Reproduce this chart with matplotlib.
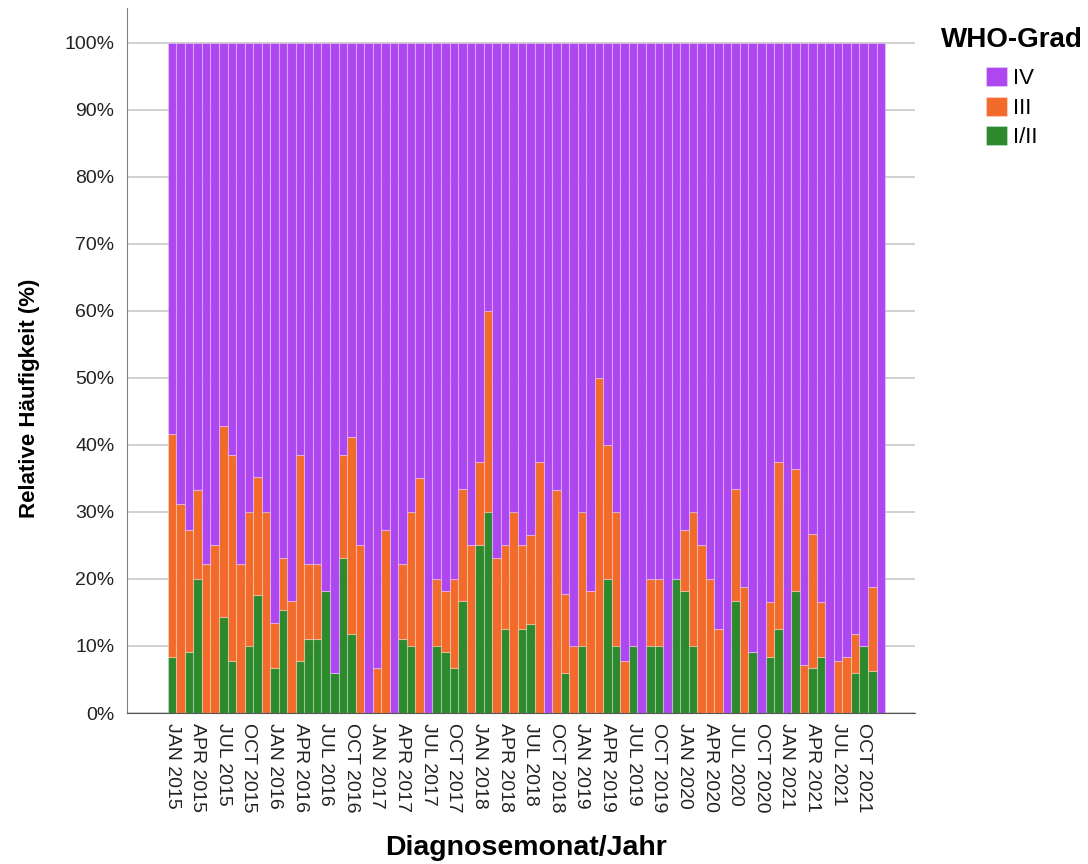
import numpy as np
import matplotlib.pyplot as plt

plt.rcParams['font.family'] = ['Liberation Sans', 'DejaVu Sans']

# Months Jan 2015 - Dec 2021
monthNames = ["JAN", "FEB", "MAR", "APR", "MAY", "JUN",
              "JUL", "AUG", "SEP", "OCT", "NOV", "DEC"]
years = [2015, 2016, 2017, 2018, 2019, 2020, 2021]

# Relative frequency (%) per month
gradeI_II = [8.3, 0, 9.1, 20, 0, 0, 14.3, 7.7, 0, 10, 17.6, 0,
             6.7, 15.4, 0, 7.7, 11.1, 11.1, 18.2, 5.9, 23.1, 11.8, 0, 0,
             0, 0, 0, 11.1, 10, 0, 0, 10, 9.1, 6.7, 16.7, 0,
             25, 30, 0, 12.5, 0, 12.5, 13.3, 0, 0, 0, 5.9, 0,
             10, 0, 0, 20, 10, 0, 10, 0, 10, 10, 0, 20,
             18.2, 10, 0, 0, 0, 0, 16.7, 0, 9.1, 0, 8.3, 12.5,
             0, 18.2, 0, 6.7, 8.3, 0, 0, 0, 5.9, 10, 6.25, 0]
gradeIII = [33.3, 31.25, 18.2, 13.3, 22.2, 25, 28.6, 30.8, 22.2, 20, 17.6, 30,
            6.7, 7.7, 16.7, 30.8, 11.1, 11.1, 0, 0, 15.4, 29.4, 25, 0,
            6.7, 27.3, 0, 11.1, 20, 35, 0, 10, 9.1, 13.3, 16.7, 25,
            12.5, 30, 23.1, 12.5, 30, 12.5, 13.3, 37.5, 0, 33.3, 11.8, 10,
            20, 18.2, 50, 20, 20, 7.7, 0, 0, 10, 10, 0, 0,
            9.1, 20, 25, 20, 12.5, 0, 16.7, 18.75, 0, 0, 8.3, 25,
            0, 18.2, 7.1, 20, 8.3, 0, 7.7, 8.3, 5.9, 0, 12.5, 0]
gradeIV = [100 - a - b for a, b in zip(gradeI_II, gradeIII)]

monthLabels = [m + " " + str(y) for y in years for m in monthNames]

colIV = '#ae47f0'
colIII = '#f36b2b'
colI_II = '#2c8a2c'

fig = plt.figure(figsize=(10.88, 8.64), dpi=100)
ax = fig.add_axes([127/1088, 1 - 713/864, (915 - 127)/1088, (713 - 8)/864])

x = np.arange(len(monthLabels))
edge = (1, 1, 1, 0.3)
ax.bar(x, gradeI_II, width=1.0, color=colI_II, edgecolor=edge, linewidth=0.8, label="I/II")
ax.bar(x, gradeIII, width=1.0, bottom=gradeI_II, color=colIII, edgecolor=edge, linewidth=0.8, label="III")
bottomIV = [a + b for a, b in zip(gradeI_II, gradeIII)]
ax.bar(x, gradeIV, width=1.0, bottom=bottomIV, color=colIV, edgecolor=edge, linewidth=0.8, label="IV")

ax.set_xlim(-5.27, 87.0)
ax.set_ylim(0, 105.2)

ax.set_yticks(np.arange(0, 101, 10))
ax.set_yticklabels([str(v) + "%" for v in range(0, 101, 10)])
ax.set_xticks(x[::3])
ax.set_xticklabels(monthLabels[::3], rotation=-90, va='top', ha='center')
ax.tick_params(axis='both', length=0, labelsize=14, colors='#222222')
ax.tick_params(axis='y', pad=9)
ax.tick_params(axis='x', pad=7)

ax.yaxis.grid(True, color='#c8c8c8', linewidth=1.2)
ax.set_axisbelow(True)
for s in ['top', 'right']:
    ax.spines[s].set_visible(False)
ax.spines['left'].set_color('#808080')
ax.spines['bottom'].set_color('#555555')

ax.set_ylabel("Relative Häufigkeit (%)", fontsize=16, fontweight='bold')
ax.yaxis.set_label_coords(-(127 - 40) / 788, (713 - 398) / 705)
ax.set_xlabel("Diagnosemonat/Jahr", fontsize=20.5, fontweight='bold')
ax.xaxis.set_label_coords((526 - 127) / 788, -(835 - 713) / 705)

# legend: title as separate text so the gap matches
fig.text(1012/1088, 1 - 47/864, "WHO-Grad", fontsize=20, fontweight='bold',
         ha='center', va='baseline')
handles, labels = ax.get_legend_handles_labels()
leg = fig.legend(handles[::-1], labels[::-1], loc='upper left',
                 bbox_to_anchor=(986/1088, 1 - 67/864), frameon=False,
                 borderpad=0, borderaxespad=0,
                 fontsize=16, handlelength=0.95, handleheight=0.95,
                 handletextpad=0.25, labelspacing=0.33)

fig.savefig("out.png", dpi=100)
